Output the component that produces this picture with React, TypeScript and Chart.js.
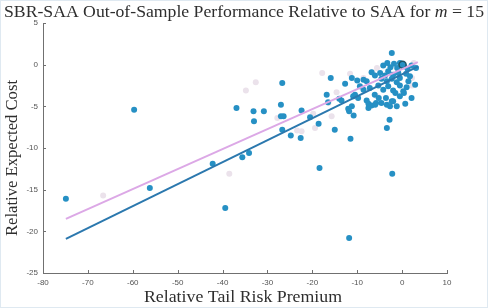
import React, { useEffect, useRef } from "react";
import { Chart, registerables } from "chart.js";
Chart.register(...registerables);

const titleMain = "SBR-SAA Out-of-Sample Performance Relative to SAA for ";
const titleVar = "m";
const titleTail = " = 15";
const xTitle = "Relative Tail Risk Premium";
const yTitle = "Relative Expected Cost";

const xTicks = [-80, -70, -60, -50, -40, -30, -20, -10, 0, 10];
const yTicks = [5, 0, -5, -10, -15, -20, -25];

// SBR-SAA instances (blue)
const blueX = [
  -74.9, -59.7, -56.2, -42.2, -39.4, -36.9, -35.6, -34.1, -33.1, -33.0, -30.8, -27.0, -26.7, -27.0, -26.4,
  -26.7, -24.8, -22.6, -22.4, -20.5, -18.6, -18.4, -15.0, -11.5, -11.8, -2.2, -2.8, -3.4,
  -2.3, -15.9, -12.7, -11.2, -10.0, -16.8, -16.5, -14.0, -13.5, -10.9, -10.5, -9.8, -12.0, -11.2, -11.8, -10.8,
  -7.9, -7.5, -6.8, -6.1, -5.8, -5.2, -6.0, -4.6, -3.6, -3.4, -2.3, -2.7, -7.5, -1.5, 0.4, 0.7, 2.1, -2.0, -1.2, -0.5,
  -4.2, -3.3, -2.6, -1.8, -1.1, -0.5, 0.4, 1.2, 2.1, 3.1,
  -6.8, -6.05, -4.9, -3.8, -3.1, -2.0, -0.85, 0.9, 1.75,
  -8.6, -7.9, -4.6, -3.4, -2.3, -1.2, -0.5, 1.4,
  -9.4, -8.6, -7.2, -5.3, -4.2, -3.1, -2.0, -0.5, 0.25, 1.0, 2.9,
];
const blueY = [
  -16.1, -5.4, -14.8, -11.9, -17.2, -5.2, -11.1, -10.6, -5.6, -6.8, -5.6, -4.8, -2.2, -6.2, -6.2,
  -7.8, -8.5, -8.8, -5.5, -6.3, -7.1, -12.4, -7.8, -8.9, -20.8, -13.1, -6.6, -7.6,
  1.4, -1.6, -2.3, -1.6, -1.9, -3.6, -4.5, -4.1, -4.3, -3.8, -3.6, -4.0, -5.3, -5.0, -5.6, -6.1,
  -4.3, -4.7, -4.9, -3.6, -4.6, -4.0, -4.8, -4.6, -4.0, -4.8, -4.4, -5.0, -5.2, -3.4, -3.4, -4.7, -4.0, -4.4, -5.0, -3.8,
  -0.1, 0.2, -0.3, 0.1, -0.4, 0.2, -0.2, -0.5, -0.1, -0.4,
  -0.9, -1.3, -1.0, -1.3, -0.8, -1.2, -1.0, -1.1, -1.4,
  -1.8, -2.0, -1.7, -2.0, -1.7, -2.1, -1.6, -2.0,
  -2.6, -3.0, -2.8, -2.5, -3.0, -2.6, -3.1, -2.5, -3.2, -2.7, -2.4,
];

// other instances (light grey)
const greyX = [-66.6, -38.5, -34.8, -32.6, -27.8, -23.4, -22.4, -19.8, -19.4, -17.8, -14.6, -15.7, -16.4, -11.6, -8.6, -6.6, -5.6, 2.2, 2.6, 2.2, -5.6];
const greyY = [-15.7, -13.1, -3.1, -2.1, -6.4, -7.9, -8.0, -5.9, -7.6, -1.0, -3.3, -6.2, -4.6, -1.1, -1.6, -0.9, -0.4, -1.6, 0.2, -2.5, -3.8];

// reference instance (outlined)
const refX = [0.1];
const refY = [0.0];

// fitted trend lines (end points)
const blueFitX = [-74.9, 3.6];
const blueFitY = [-20.9, -0.2];
const pinkFitX = [-74.9, 3.5];
const pinkFitY = [-18.5, 0.3];

const zip = (xs: number[], ys: number[]) => xs.map((x, i) => ({ x, y: ys[i] }));

const TEXT = "#2e2e2e";
const SERIF = '"Liberation Serif", "DejaVu Serif", serif';

// draws text parts in sequence, stretched horizontally to a target width
function drawStretched(
  ctx: CanvasRenderingContext2D,
  parts: { text: string; font: string }[],
  cx: number,
  cy: number,
  targetW: number
) {
  let w = 0;
  parts.forEach((p) => {
    ctx.font = p.font;
    w += ctx.measureText(p.text).width;
  });
  const s = targetW / w;
  ctx.save();
  ctx.translate(cx, cy);
  ctx.scale(s, 1);
  let x = -w / 2;
  ctx.textAlign = "left";
  parts.forEach((p) => {
    ctx.font = p.font;
    ctx.fillText(p.text, x, 0);
    x += ctx.measureText(p.text).width;
  });
  ctx.restore();
}

const deco = {
  id: "deco",
  afterDraw(chart: any) {
    const ctx = chart.ctx as CanvasRenderingContext2D;
    const { left, bottom } = chart.chartArea;
    const xs = chart.scales.x;
    const ys = chart.scales.y;
    ctx.save();
    ctx.strokeStyle = "#707070";
    ctx.lineWidth = 1;
    ctx.beginPath();
    xTicks.forEach((v) => {
      const px = Math.round(xs.getPixelForValue(v)) + 0.5;
      ctx.moveTo(px, bottom);
      ctx.lineTo(px, bottom - 3);
    });
    yTicks.forEach((v) => {
      const py = Math.round(ys.getPixelForValue(v)) + 0.5;
      ctx.moveTo(left, py);
      ctx.lineTo(left + 3, py);
    });
    ctx.stroke();

    ctx.fillStyle = TEXT;
    ctx.textBaseline = "alphabetic";
    const f = `16px ${SERIF}`;
    const fi = `italic 16px ${SERIF}`;
    // title
    drawStretched(
      ctx,
      [
        { text: titleMain, font: f },
        { text: titleVar, font: fi },
        { text: titleTail, font: f },
      ],
      243,
      15.5,
      480
    );
    // x title
    drawStretched(ctx, [{ text: xTitle, font: f }], 242, 301, 198);

    // y title
    ctx.save();
    ctx.translate(16, 157);
    ctx.rotate(-Math.PI / 2);
    drawStretched(ctx, [{ text: yTitle, font: f }], 0, 0, 156);
    ctx.restore();
    ctx.restore();
  },
};

export default function App() {
  const ref = useRef<HTMLCanvasElement | null>(null);
  useEffect(() => {
    document.body.style.margin = "0";
    const canvas = ref.current!;
    const tickFont = { family: '"Liberation Sans", Arial, sans-serif', size: 8 };
    const chart = new Chart(canvas, {
      type: "scatter",
      data: {
        datasets: [
          {
            type: "line",
            label: "blue fit",
            data: zip(blueFitX, blueFitY),
            borderColor: "#2b78ae",
            borderWidth: 2,
            pointRadius: 0,
            fill: false,
            order: 0,
          } as any,
          {
            type: "line",
            label: "pink fit",
            data: zip(pinkFitX, pinkFitY),
            borderColor: "#dca8e6",
            borderWidth: 2,
            pointRadius: 0,
            fill: false,
            order: 1,
          } as any,
          {
            label: "ref",
            data: zip(refX, refY),
            backgroundColor: "#2690c4",
            borderColor: "#1d5566",
            borderWidth: 1.5,
            pointRadius: 3.5,
            order: 2,
          },
          {
            label: "SBR-SAA",
            data: zip(blueX, blueY),
            backgroundColor: "#2690c4",
            borderColor: "#2690c4",
            borderWidth: 0,
            pointRadius: 3,
            order: 3,
          },
          {
            label: "other",
            data: zip(greyX, greyY),
            backgroundColor: "#ebe2eb",
            borderColor: "#ebe2eb",
            borderWidth: 0,
            pointRadius: 3,
            order: 4,
          },
        ],
      },
      options: {
        responsive: false,
        animation: false,
        events: [],
        layout: { padding: { left: 0, right: 40, top: 22, bottom: 0 } },
        plugins: { legend: { display: false }, tooltip: { enabled: false }, title: { display: false } },
        scales: {
          x: {
            type: "linear",
            min: -80,
            max: 10,
            afterFit: (s: any) => {
              s.height = 34;
            },
            afterBuildTicks: (s: any) => {
              s.ticks = xTicks.map((v) => ({ value: v }));
            },
            grid: { display: false, drawTicks: false },
            border: { display: true, color: "#707070", width: 1 },
            ticks: { font: tickFont, color: "#555", padding: 5, maxRotation: 0, autoSkip: false },
          },
          y: {
            type: "linear",
            min: -25,
            max: 5,
            afterFit: (s: any) => {
              s.width = 42;
            },
            afterBuildTicks: (s: any) => {
              s.ticks = yTicks.map((v) => ({ value: v }));
            },
            grid: { display: false, drawTicks: false },
            border: { display: true, color: "#707070", width: 1 },
            ticks: { font: tickFont, color: "#555", padding: 5, autoSkip: false },
          },
        },
      },
      plugins: [deco],
    });
    return () => chart.destroy();
  }, []);
  return (
    <div
      style={{
        width: 488,
        height: 308,
        boxSizing: "border-box",
        border: "1px solid #dfe9f1",
        background: "#fff",
      }}
    >
      <canvas ref={ref} width={486} height={306} style={{ display: "block" }} />
    </div>
  );
}
